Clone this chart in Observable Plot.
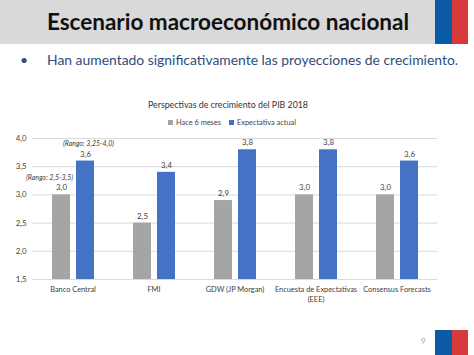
<!DOCTYPE html>
<html>
<head>
<meta charset="utf-8">
<script src="https://cdn.jsdelivr.net/npm/d3@7"></script>
<script src="https://cdn.jsdelivr.net/npm/@observablehq/plot@0.6"></script>
<style>
  html, body { margin: 0; padding: 0; background: #fff; }
  body { width: 474px; height: 355px; position: relative; overflow: hidden; font-family: Lato, "Open Sans", sans-serif; }
  #band { position: absolute; left: 0; top: 0; width: 435px; height: 44px; background: #d9d9d9; }
  #title { position: absolute; left: 0; top: 0; width: 456px; height: 44px; line-height: 44px; text-align: center; font-weight: bold; font-size: 22.5px; color: #111; }
  .flag { position: absolute; left: 435px; width: 33px; display: flex; }
  .flag div { flex: 1; }
  .flag .b { background: #0b5aa6; }
  .flag .r { background: #d83a3c; }
  #bullet { position: absolute; left: 20px; top: 51px; font-size: 13.9px; color: #2e4d7a; white-space: nowrap; }
  #bullet span { display: inline-block; width: 27px; }
  #ctitle { position: absolute; left: 0; width: 456px; top: 99px; text-align: center; font-size: 8.8px; color: #333; }
  #legend { position: absolute; left: 0; width: 456px; top: 118px; text-align: center; font-size: 7.4px; color: #444; }
  #legend i { display: inline-block; width: 5px; height: 5px; margin: 0 3px 0 8px; }
  #chart { position: absolute; left: 0; top: 128px; }
  #page { position: absolute; left: 421px; top: 336px; font-size: 8px; color: #aaa; }
</style>
</head>
<body>
<div id="band"></div>
<div id="title">Escenario macroeconómico nacional</div>
<div class="flag" style="top:0;height:44px"><div class="b"></div><div class="r"></div></div>
<div class="flag" style="top:330px;height:25px"><div class="b"></div><div class="r"></div></div>
<div id="bullet"><span>•</span>Han aumentado significativamente las proyecciones de crecimiento.</div>
<div id="ctitle"></div>
<div id="legend"></div>
<div id="chart"></div>
<div id="page">9</div>
<script>
const chartTitle = "Perspectivas de crecimiento del PIB 2018";
const categories = ["Banco Central", "FMI", "GDW (JP Morgan)", "Encuesta de Expectativas (EEE)", "Consensus Forecasts"];
const categoryLabels = ["Banco Central", "FMI", "GDW (JP Morgan)", "Encuesta de Expectativas\n(EEE)", "Consensus Forecasts"];
const series = ["Hace 6 meses", "Expectativa actual"];
const colors = ["#a5a5a5", "#4472c4"];
const hace6meses = [3.0, 2.5, 2.9, 3.0, 3.0];
const expectativaActual = [3.6, 3.4, 3.8, 3.8, 3.6];
const yTicks = [1.5, 2.0, 2.5, 3.0, 3.5, 4.0];
const rangos = [
  {cat: "Banco Central", serie: "Hace 6 meses", value: 3.0, label: "(Rango: 2,5-3,5)"},
  {cat: "Banco Central", serie: "Expectativa actual", value: 3.6, label: "(Rango: 3,25-4,0)"}
];

const data = [];
categories.forEach((c, i) => {
  data.push({cat: c, serie: series[0], value: hace6meses[i]});
  data.push({cat: c, serie: series[1], value: expectativaActual[i]});
});
const fmt = d => d.toFixed(1).replace(".", ",");
const yMin = yTicks[0], yMax = yTicks[yTicks.length - 1];

document.getElementById("ctitle").textContent = chartTitle;
document.getElementById("legend").innerHTML = series.map((s, i) => `<i style="background:${colors[i]}"></i>${s}`).join("");

const chart = Plot.plot({
  width: 474,
  height: 182,
  marginTop: 10,
  marginBottom: 31,
  marginLeft: 32,
  marginRight: 37,
  style: {fontFamily: "Lato, 'Open Sans', sans-serif", fontSize: "7.8px", color: "#404040"},
  fx: {domain: categories, padding: 0, label: null, axis: null},
  x: {domain: series, paddingInner: 0.25, paddingOuter: 0.75, axis: null},
  y: {domain: [yMin, yMax], label: null},
  color: {domain: series, range: colors},
  marks: [
    Plot.ruleY(yTicks, {stroke: "#d9d9d9", strokeWidth: 1}),
    Plot.axisY({ticks: yTicks, tickFormat: fmt, tickSize: 0, tickPadding: 6, fontSize: 7.8, label: null}),
    Plot.axisFx({anchor: "bottom", tickFormat: d => categoryLabels[categories.indexOf(d)], tickSize: 0, tickPadding: 6, fontSize: 7.4, label: null, lineHeight: 1.3}),
    Plot.barY(data, {fx: "cat", x: "serie", y1: yMin, y2: "value", fill: "serie"}),
    Plot.text(data, {fx: "cat", x: "serie", y: "value", text: d => fmt(d.value), dy: -7, fill: "#404040", fontSize: 7.8}),
    Plot.text(rangos.filter(d => d.serie === series[0]), {fx: "cat", x: "serie", y: "value", text: "label", dy: -17, dx: -12, fill: "#404040", fontSize: 7, fontStyle: "italic"}),
    Plot.text(rangos.filter(d => d.serie === series[1]), {fx: "cat", x: "serie", y: "value", text: "label", dy: -17, dx: 3, fill: "#404040", fontSize: 7, fontStyle: "italic"})
  ]
});
document.getElementById("chart").appendChild(chart);
</script>
</body>
</html>
